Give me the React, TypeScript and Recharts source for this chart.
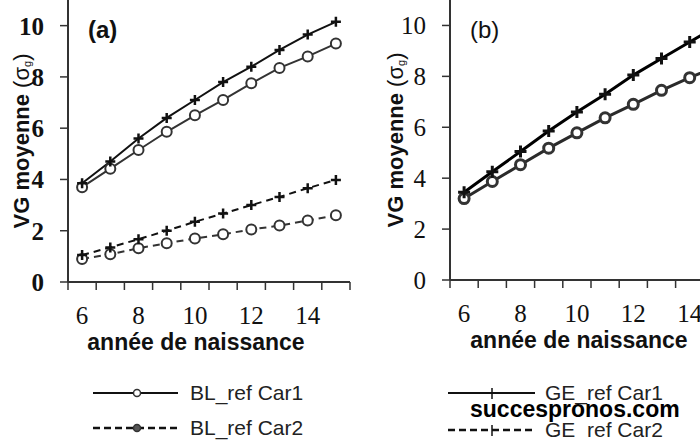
import { CartesianGrid, Line, LineChart, XAxis, YAxis } from "recharts";

const years = [6, 7, 8, 9, 10, 11, 12, 13, 14, 15];
const xTickLabels = [6, 8, 10, 12, 14];
const yTicks = [0, 2, 4, 6, 8, 10];

// panel (a)
const blCar1A = [3.7, 4.42, 5.15, 5.86, 6.5, 7.1, 7.75, 8.35, 8.8, 9.3];
const blCar2A = [0.9, 1.08, 1.32, 1.51, 1.7, 1.86, 2.05, 2.2, 2.4, 2.6];
const geCar1A = [3.85, 4.7, 5.6, 6.4, 7.1, 7.8, 8.4, 9.05, 9.65, 10.15];
const geCar2A = [1.05, 1.35, 1.67, 2.0, 2.35, 2.67, 3.0, 3.32, 3.66, 3.98];

// panel (b)
const geCar1B = [3.45, 4.25, 5.05, 5.85, 6.6, 7.3, 8.05, 8.7, 9.35, 10.0];
const blCar1B = [3.2, 3.87, 4.53, 5.18, 5.78, 6.37, 6.9, 7.45, 7.95, 8.4];

const legendA = ["BL_ref Car1", "BL_ref Car2"];
const legendB = ["GE_ref Car1", "GE_ref Car2"];

const dataA = years.map((year, i) => ({
  year,
  blCar1: blCar1A[i],
  blCar2: blCar2A[i],
  geCar1: geCar1A[i],
  geCar2: geCar2A[i],
}));

const dataB = years.map((year, i) => ({
  year,
  geCar1: geCar1B[i],
  blCar1: blCar1B[i],
}));

// boundaries between years get a tick mark, even years get a label
const xTicks = [...years.map((y) => y - 0.5), years[years.length - 1] + 0.5, ...xTickLabels].sort(
  (a, b) => a - b
);

const SERIF = "'Liberation Serif', 'DejaVu Serif', serif";
const SANS = "'Liberation Sans', Arial, sans-serif";

function XTick(props: any) {
  const { x, y, payload } = props;
  const v = payload.value;
  if (xTickLabels.includes(v)) {
    return (
      <text x={x} y={y + 42} textAnchor="middle" fontFamily={SERIF} fontSize={25} fill="#111">
        {v}
      </text>
    );
  }
  return <line x1={x} x2={x} y1={y} y2={y + 8} stroke="#333" strokeWidth={1.5} />;
}

function PlusDot(props: any) {
  const { cx, cy, size = 5, width = 2.5 } = props;
  if (cx == null || cy == null) return null;
  return (
    <path
      d={`M${cx - size},${cy}H${cx + size}M${cx},${cy - size}V${cy + size}`}
      stroke="#111"
      strokeWidth={width}
      fill="none"
    />
  );
}

function CircleDot(props: any) {
  const { cx, cy, r = 5, width = 2 } = props;
  if (cx == null || cy == null) return null;
  return <circle cx={cx} cy={cy} r={r} fill="#fff" stroke="#333" strokeWidth={width} />;
}

function YLabel(props: any) {
  const vb = props.viewBox || {};
  const cx = vb.x + props.dx;
  const cy = vb.y + vb.height / 2;
  return (
    <text
      x={cx}
      y={cy}
      transform={`rotate(-90, ${cx}, ${cy})`}
      textAnchor="middle"
      dominantBaseline="central"
      fontFamily={SANS}
      fontSize={22}
      fill="#111"
    >
      <tspan fontWeight="bold">VG moyenne </tspan>
      <tspan>(σ</tspan>
      <tspan fontSize={11} dy={6}>
        g
      </tspan>
      <tspan dy={-6}>)</tspan>
    </text>
  );
}

function XLabel(props: any) {
  const vb = props.viewBox || {};
  return (
    <text
      x={vb.x + vb.width / 2 + props.dx}
      y={vb.y + 68}
      textAnchor="middle"
      fontFamily={SANS}
      fontWeight="bold"
      fontSize={23}
      fill="#111"
    >
      année de naissance
    </text>
  );
}

function Axes({ yBold, labelDx, xLabelDx }: { yBold: boolean; labelDx: number; xLabelDx: number }) {
  return (
    <>
      <XAxis
        dataKey="year"
        type="number"
        domain={[5.5, 15.5]}
        ticks={xTicks}
        interval={0}
        tick={(p: any) => <XTick {...p} />}
        tickLine={false}
        tickSize={0}
        tickMargin={0}
        height={78}
        axisLine={{ stroke: "#333", strokeWidth: 2 }}
        label={{ content: (p: any) => <XLabel {...p} dx={xLabelDx} /> }}
      />
      <YAxis
        type="number"
        domain={[0, 11]}
        ticks={yTicks}
        width={68}
        tickSize={8}
        tickMargin={16}
        tickLine={{ stroke: "#333", strokeWidth: 1.5 }}
        axisLine={{ stroke: "#333", strokeWidth: 2 }}
        tick={{ fontFamily: SERIF, fontSize: 25, fill: "#111", fontWeight: yBold ? "bold" : "normal" }}
        label={{ content: (p: any) => <YLabel {...p} dx={labelDx} /> }}
      />
    </>
  );
}

export default function App() {
  return (
    <div
      style={{
        position: "absolute",
        left: 0,
        top: 0,
        width: 700,
        height: 440,
        overflow: "hidden",
        background: "#fff",
      }}
    >
      <div style={{ position: "absolute", left: 0, top: 0 }}>
        <LineChart width={360} height={360} data={dataA} margin={{ top: 0, right: 10, bottom: 0, left: 0 }}>
          <CartesianGrid stroke="none" />
          {Axes({ yBold: true, labelDx: 21, xLabelDx: -13 })}
          <Line
            dataKey="blCar2"
            stroke="#333"
            strokeWidth={2}
            strokeDasharray="7 5"
            dot={(p: any) => <CircleDot key={p.key} cx={p.cx} cy={p.cy} />}
            isAnimationActive={false}
          />
          <Line
            dataKey="geCar2"
            stroke="#111"
            strokeWidth={2}
            strokeDasharray="7 5"
            dot={(p: any) => <PlusDot key={p.key} cx={p.cx} cy={p.cy} />}
            isAnimationActive={false}
          />
          <Line
            dataKey="blCar1"
            stroke="#333"
            strokeWidth={2}
            dot={(p: any) => <CircleDot key={p.key} cx={p.cx} cy={p.cy} />}
            isAnimationActive={false}
          />
          <Line
            dataKey="geCar1"
            stroke="#111"
            strokeWidth={2}
            dot={(p: any) => <PlusDot key={p.key} cx={p.cx} cy={p.cy} />}
            isAnimationActive={false}
          />
        </LineChart>
      </div>

      <div style={{ position: "absolute", left: 382, top: 0 }}>
        <LineChart width={360} height={358} data={dataB} margin={{ top: 0, right: 10, bottom: 0, left: 0 }}>
          {Axes({ yBold: false, labelDx: 13, xLabelDx: -12 })}
          <Line
            dataKey="blCar1"
            stroke="#2a2a2a"
            strokeWidth={3}
            dot={(p: any) => <CircleDot key={p.key} cx={p.cx} cy={p.cy} width={3} />}
            isAnimationActive={false}
          />
          <Line
            dataKey="geCar1"
            stroke="#000"
            strokeWidth={3}
            dot={(p: any) => <PlusDot key={p.key} cx={p.cx} cy={p.cy} size={6} width={3} />}
            isAnimationActive={false}
          />
        </LineChart>
      </div>

      <svg
        width={700}
        height={440}
        style={{ position: "absolute", left: 0, top: 0, pointerEvents: "none" }}
      >
        <text x={88} y={38} fontFamily={SANS} fontWeight="bold" fontSize={24} fill="#111">
          (a)
        </text>
        <text x={470} y={38} fontFamily={SANS} fontSize={24} fill="#111">
          (b)
        </text>

        {/* legend under (a) */}
        <line x1={93} x2={178} y1={393} y2={393} stroke="#111" strokeWidth={2} />
        <circle cx={137} cy={393} r={3.5} fill="#fff" stroke="#333" strokeWidth={1.5} />
        <text x={190} y={400} fontFamily={SANS} fontSize={21} fill="#222">
          {legendA[0]}
        </text>
        <line x1={93} x2={178} y1={428} y2={428} stroke="#111" strokeWidth={2.5} strokeDasharray="7 4" />
        <circle cx={137} cy={428} r={3.5} fill="#555" stroke="#333" strokeWidth={1.5} />
        <text x={190} y={435} fontFamily={SANS} fontSize={21} fill="#222">
          {legendA[1]}
        </text>

        {/* legend under (b) */}
        <line x1={448} x2={535} y1={393} y2={393} stroke="#111" strokeWidth={2} />
        <line x1={492} x2={492} y1={388} y2={399} stroke="#111" strokeWidth={1.5} />
        <text x={545} y={400} fontFamily={SANS} fontSize={21} fill="#222">
          {legendB[0]}
        </text>
        <line x1={448} x2={535} y1={430} y2={430} stroke="#111" strokeWidth={2.5} strokeDasharray="7 4" />
        <line x1={492} x2={492} y1={425} y2={436} stroke="#111" strokeWidth={1.5} />
        <text x={545} y={437} fontFamily={SANS} fontSize={21} fill="#222">
          {legendB[1]}
        </text>

        <text x={470} y={417} fontFamily={SANS} fontWeight="bold" fontSize={23} fill="#000">
          succespronos.com
        </text>
      </svg>
    </div>
  );
}
